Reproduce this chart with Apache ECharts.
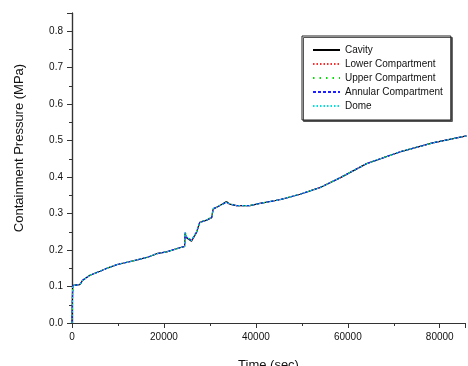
<!DOCTYPE html>
<html>
<head>
<meta charset="utf-8">
<script src="https://cdn.jsdelivr.net/npm/echarts@6/dist/echarts.min.js"></script>
<style>
  html, body { margin: 0; padding: 0; background: #fff; }
  #chart { width: 468px; height: 366px; }
</style>
</head>
<body>
<div id="chart"></div>
<script>
// time in seconds, pressure in MPa
const timeSec = [0, 150, 1700, 2300, 3900, 6100, 8000, 10000, 12500, 14800, 16600, 18400, 20600, 23100,
  24500, 24600, 24900, 26000, 26400, 27100, 27800, 29300, 30400, 30700, 32200, 33600, 34300, 35800,
  38700, 40900, 45200, 49600, 53900, 58300, 64100, 71300, 78500, 85800];

const cavity = [0.0, 0.103, 0.105, 0.117, 0.131, 0.142, 0.152, 0.161, 0.168, 0.175, 0.181, 0.190, 0.195, 0.205,
  0.210, 0.244, 0.234, 0.224, 0.226, 0.248, 0.276, 0.282, 0.289, 0.312, 0.322, 0.333, 0.326, 0.322,
  0.322, 0.328, 0.338, 0.353, 0.371, 0.398, 0.437, 0.469, 0.494, 0.513];
const lowerComp = [0.0, 0.103, 0.105, 0.117, 0.131, 0.142, 0.152, 0.161, 0.168, 0.175, 0.181, 0.190, 0.195, 0.205,
  0.210, 0.247, 0.236, 0.226, 0.228, 0.250, 0.277, 0.282, 0.290, 0.313, 0.322, 0.331, 0.326, 0.322,
  0.322, 0.328, 0.338, 0.353, 0.371, 0.398, 0.437, 0.469, 0.494, 0.513];
const upperComp = [0.0, 0.103, 0.105, 0.117, 0.131, 0.142, 0.152, 0.161, 0.168, 0.175, 0.181, 0.190, 0.195, 0.205,
  0.210, 0.252, 0.238, 0.227, 0.229, 0.251, 0.277, 0.283, 0.291, 0.314, 0.323, 0.331, 0.327, 0.322,
  0.322, 0.328, 0.338, 0.353, 0.371, 0.398, 0.437, 0.469, 0.494, 0.513];
const annularComp = [0.0, 0.103, 0.105, 0.117, 0.131, 0.142, 0.152, 0.161, 0.168, 0.175, 0.181, 0.190, 0.195, 0.205,
  0.210, 0.248, 0.236, 0.226, 0.229, 0.250, 0.276, 0.282, 0.290, 0.313, 0.322, 0.331, 0.326, 0.322,
  0.322, 0.328, 0.338, 0.353, 0.371, 0.398, 0.437, 0.469, 0.494, 0.513];
const dome = [0.0, 0.103, 0.105, 0.117, 0.131, 0.142, 0.152, 0.161, 0.168, 0.175, 0.181, 0.190, 0.195, 0.205,
  0.210, 0.248, 0.236, 0.226, 0.229, 0.250, 0.276, 0.282, 0.290, 0.313, 0.322, 0.331, 0.326, 0.322,
  0.322, 0.328, 0.338, 0.353, 0.371, 0.398, 0.437, 0.469, 0.494, 0.513];

const seriesDefs = [
  { name: 'Cavity', values: cavity, color: '#000000', type: 'solid' },
  { name: 'Lower Compartment', values: lowerComp, color: '#ff2a2a', type: [1.5, 2] },
  { name: 'Upper Compartment', values: upperComp, color: '#00e000', type: [1.5, 5] },
  { name: 'Annular Compartment', values: annularComp, color: '#1e1eff', type: [3, 2] },
  { name: 'Dome', values: dome, color: '#00dede', type: [1.5, 2] }
];

const chart = echarts.init(document.getElementById('chart'));
const axisColor = '#333';
const font = 'Arial, "Liberation Sans", sans-serif';

const option = {
  backgroundColor: '#fff',
  animation: false,
  textStyle: { fontFamily: font },
  grid: { left: 72, top: 13, right: 3, bottom: 43, containLabel: false, outerBoundsMode: 'none' },
  legend: {
    orient: 'vertical',
    left: 302,
    top: 36,
    padding: [9, 8, 9, 10],
    itemWidth: 27,
    itemHeight: 10,
    itemGap: 4,
    itemStyle: { opacity: 0 },
    backgroundColor: '#fff',
    borderColor: '#222',
    borderWidth: 1,
    borderRadius: 0,
    shadowColor: '#555',
    shadowBlur: 0,
    shadowOffsetX: 1.5,
    shadowOffsetY: 1.5,
    textStyle: { fontSize: 10, color: '#111', fontFamily: font },
    data: seriesDefs.map(s => s.name)
  },
  xAxis: [{
    type: 'value',
    min: 0,
    max: 85500,
    interval: 20000,
    name: 'Time (sec)',
    nameLocation: 'middle',
    nameGap: 36,
    nameTextStyle: { fontSize: 13, color: '#111' },
    axisLine: { show: true, lineStyle: { color: axisColor, width: 1.2 } },
    axisTick: { show: true, inside: false, length: 5, lineStyle: { color: axisColor } },
    minorTick: { show: true, splitNumber: 2, length: 3, lineStyle: { color: axisColor } },
    axisLabel: { fontSize: 10, color: '#111', margin: 9, showMaxLabel: false,
      formatter: v => String(v) },
    splitLine: { show: false }
  }, {
    type: 'value',
    position: 'top',
    min: 0,
    max: 85500,
    interval: 20000,
    axisLine: { show: true, lineStyle: { color: axisColor, width: 1.2 } },
    axisTick: { show: true, inside: true, length: 4, lineStyle: { color: axisColor } },
    minorTick: { show: false },
    axisLabel: { show: false },
    splitLine: { show: false }
  }],
  yAxis: [{
    type: 'value',
    min: 0,
    max: 0.85,
    interval: 0.1,
    name: 'Containment Pressure (MPa)',
    nameLocation: 'middle',
    nameGap: 46,
    nameTextStyle: { fontSize: 13, color: '#111', padding: [0, 0, 0, 40] },
    axisLine: { show: true, lineStyle: { color: axisColor, width: 1.2 } },
    axisTick: { show: true, inside: false, length: 5, lineStyle: { color: axisColor } },
    minorTick: { show: true, splitNumber: 2, length: 3, lineStyle: { color: axisColor } },
    axisLabel: { fontSize: 10, color: '#111', margin: 9, showMaxLabel: false,
      formatter: v => v.toFixed(1) },
    splitLine: { show: false }
  }, {
    type: 'value',
    position: 'right',
    min: 0,
    max: 0.85,
    interval: 0.1,
    axisLine: { show: true, lineStyle: { color: axisColor, width: 1.2 } },
    axisTick: { show: true, inside: true, length: 4, lineStyle: { color: axisColor } },
    axisLabel: { show: false },
    splitLine: { show: false }
  }],
  series: seriesDefs.map(s => ({
    name: s.name,
    type: 'line',
    xAxisIndex: 0,
    yAxisIndex: 0,
    symbol: 'none',
    smooth: false,
    data: timeSec.map((t, i) => [t, s.values[i]]),
    lineStyle: { color: s.color, width: 1.2, type: s.type },
    itemStyle: { color: s.color }
  }))
};

chart.setOption(option);
</script>
</body>
</html>
